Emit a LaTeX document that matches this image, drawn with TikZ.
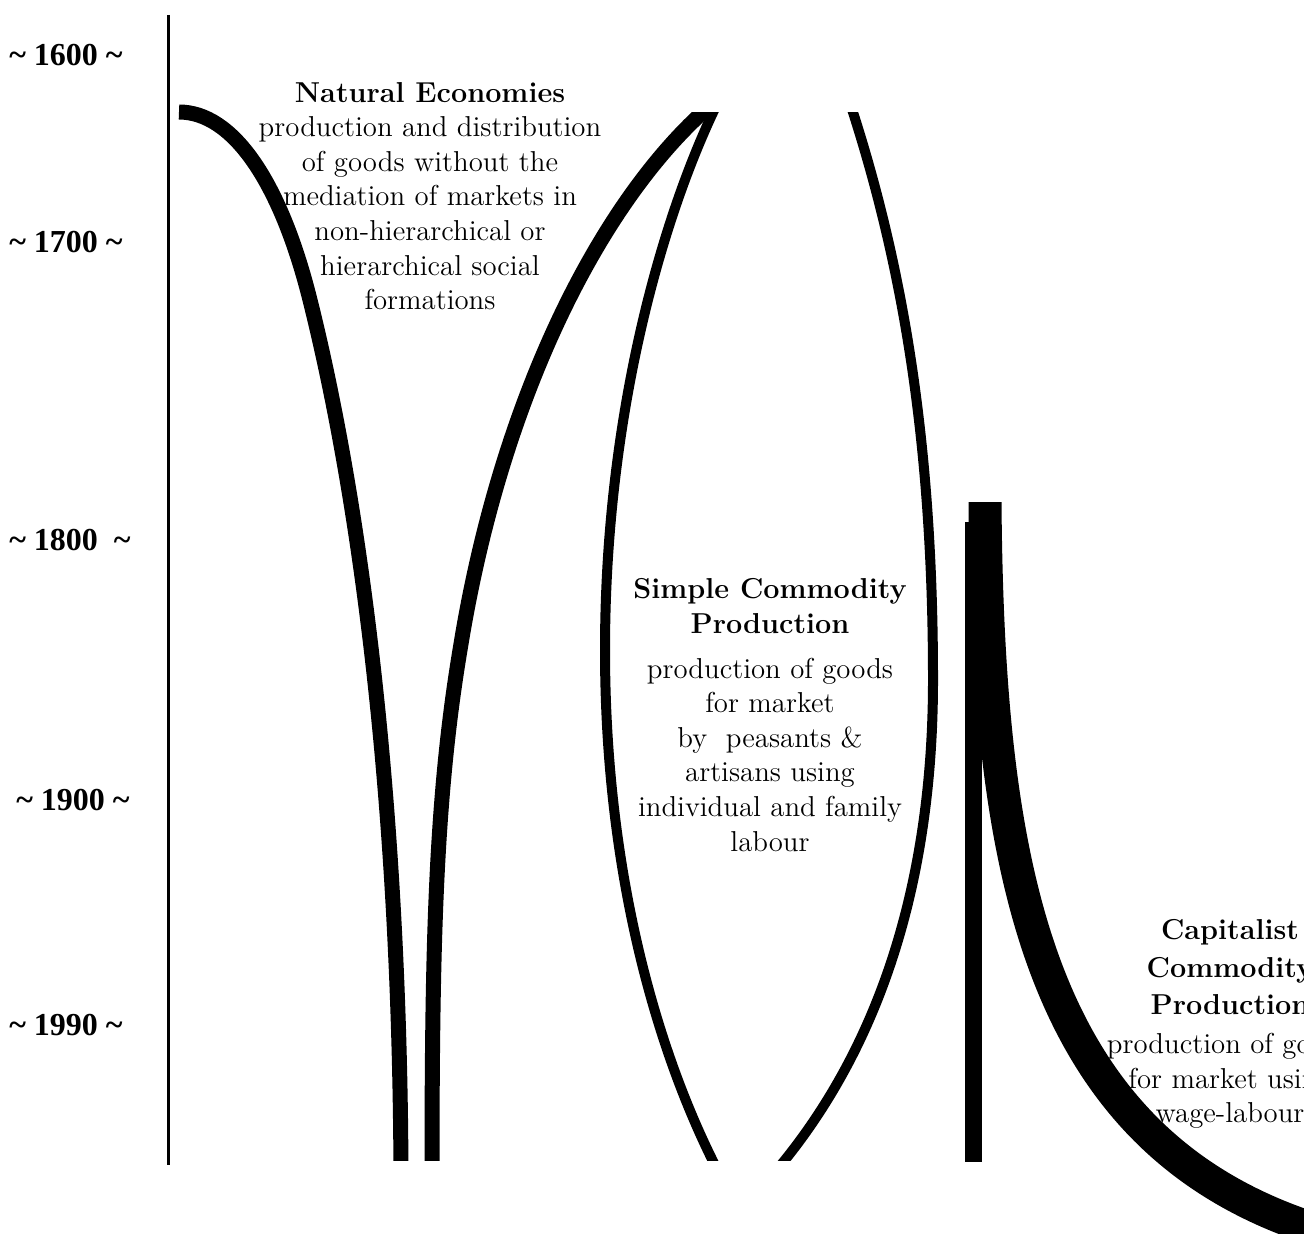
\documentclass[tikz,border=0pt]{standalone}
\usepackage{fontspec}
\newfontfamily\yearfont{Liberation Serif}
\begin{document}
\begin{tikzpicture}[x=0.5pt,y=-0.5pt,
  year/.style={font=\yearfont\bfseries\fontsize{16}{18}\selectfont, inner sep=0},
  txt/.style={align=center, inner sep=0, font=\fontsize{14.4}{17.3}\selectfont},
  thickcurve/.style={line width=7.5pt},
  thincurve/.style={line width=5pt},
  axisline/.style={line width=1.5pt}]
\useasboundingbox (0,0) rectangle (1304,1234);
\clip (0,0) rectangle (1304,1234);
\fill[white] (0,0) rectangle (1304,1234);

% time axis
\coordinate (axtop) at (168,15);
\coordinate (axbot) at (168,1165);
\draw[axisline] (axtop) -- (axbot);

% year labels
\node[year] (y1600) at (66,55)  {\textasciitilde{} 1600 \textasciitilde};
\node[year] (y1700) at (66,242) {\textasciitilde{} 1700 \textasciitilde};
\node[year] (y1800) at (70,540) {\textasciitilde{} 1800\ \ \textasciitilde};
\node[year] (y1900) at (73,800) {\textasciitilde{} 1900 \textasciitilde};
\node[year] (y1990) at (66,1025) {\textasciitilde{} 1990 \textasciitilde};

% natural economies: left curve
\begin{scope}
\clip (0,0) rectangle (1304,1160);
\draw[thickcurve] (179,112) .. controls (232,112) and (280,180) .. (310,300)
  .. controls (360,500) and (400,800) .. (401,1180);
\end{scope}

% natural economies: right curve and simple commodity production outline
\begin{scope}
\clip (0,113) rectangle (1304,1160);
\draw[thickcurve] (712,104) .. controls (600,200) and (500,400) .. (460,650)
  .. controls (435,800) and (432,950) .. (432,1180);
\draw[thincurve] (719,100) .. controls (660,220) and (605,420) .. (605,650)
  .. controls (605,880) and (660,1060) .. (720,1175);
\draw[thincurve] (849,100) .. controls (905,270) and (933,450) .. (933,680)
  .. controls (933,900) and (870,1060) .. (775,1172);
\end{scope}

% capitalist commodity production
\draw[line width=8.5pt] (973.5,522) -- (973.5,1162);
\begin{scope}
\clip (0,503) rectangle (1304,1234);
\draw[line width=16.5pt] (985,490) -- (985,503) .. controls (988,880) and (1040,1150) .. (1330,1234);
\end{scope}

% texts
\node[txt] (ne) at (430,196) {\textbf{Natural Economies}\\
production and distribution\\
of goods without the\\
mediation of markets in\\
non-hierarchical or\\
hierarchical social\\
formations};

\node[txt] (scp) at (770,715) {\textbf{Simple Commodity}\\
\textbf{Production}\\[5pt]
production of goods\\
for market\\
by\ \ peasants \&\\
artisans using\\
individual and family\\
labour};

\node[txt] (ccp) at (1230,1024) {\textbf{Capitalist}\\[1.5pt]
\textbf{Commodity}\\[1.5pt]
\textbf{Production}\\[2pt]
production of goods\\
for market using\\
wage-labour};
\end{tikzpicture}
\end{document}
